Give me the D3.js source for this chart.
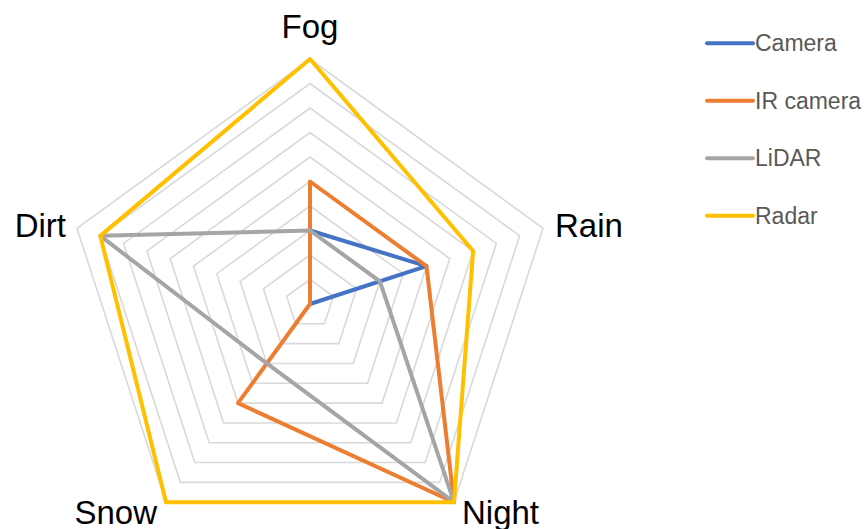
<!DOCTYPE html>
<html><head><meta charset="utf-8">
<script src="https://cdn.jsdelivr.net/npm/d3@7"></script>
<style>body{margin:0;background:#fff;}svg{display:block;font-family:"Liberation Sans",Arial,sans-serif;}</style>
</head><body>
<svg id="c" width="867" height="529"></svg>
<script>
const axes = ["Fog", "Rain", "Night", "Snow", "Dirt"];
const seriesNames = ["Camera", "IR camera", "LiDAR", "Radar"];
const camera   = [3, 5, 0, 0, 0];
const irCamera = [5, 5, 10, 5, 0];
const lidar    = [3, 3, 10, 3, 9];
const radar    = [10, 7, 10, 10, 9];
const gridLevels = [1,2,3,4,5,6,7,8,9,10];
const colors = ["#4472C4", "#ED7D31", "#A5A5A5", "#FFC000"];

const seriesData = [camera, irCamera, lidar, radar];
const svg = d3.select("#c");
const cx = 310, cy = 304, R = 245;
const r = d3.scaleLinear().domain([0, 10]).range([0, R]);
const ang = d3.scalePoint().domain(axes).range([0, 2*Math.PI*4/5]);
const pt = (a, v) => { const t = ang(a); return [cx + r(v)*Math.sin(t), cy - r(v)*Math.cos(t)]; };
const line = d3.line().curve(d3.curveLinearClosed);

const g = svg.append("g");
g.selectAll("path.grid").data(gridLevels).join("path")
  .attr("class","grid")
  .attr("d", lv => line(axes.map(a => pt(a, lv))))
  .attr("fill","none").attr("stroke","#d9d9d9").attr("stroke-width",1.6);

g.selectAll("path.series").data(seriesData).join("path")
  .attr("class","series")
  .attr("d", s => line(axes.map((a,i) => pt(a, s[i]))))
  .attr("fill","none")
  .attr("stroke",(d,i)=>colors[i])
  .attr("stroke-width",4)
  .attr("stroke-linejoin","round");

const labelOff = {
  "Fog":   {dx:0,   dy:-21, anchor:"middle"},
  "Rain":  {dx:12,  dy:9,   anchor:"start"},
  "Night": {dx:8,   dy:22,  anchor:"start"},
  "Snow":  {dx:-9,  dy:22,  anchor:"end"},
  "Dirt":  {dx:-11, dy:9,   anchor:"end"}
};
g.selectAll("text.lab").data(axes).join("text")
  .attr("class","lab")
  .attr("x", a => pt(a,10)[0] + labelOff[a].dx)
  .attr("y", a => pt(a,10)[1] + labelOff[a].dy)
  .attr("text-anchor", a => labelOff[a].anchor)
  .attr("font-size", 33).attr("fill","#000")
  .text(a => a);

const ly = d3.scalePoint().domain(seriesNames).range([43.3, 215.8]);
const leg = svg.append("g");
leg.selectAll("line").data(seriesNames).join("line")
  .attr("x1",707).attr("x2",753)
  .attr("y1",d=>ly(d)).attr("y2",d=>ly(d))
  .attr("stroke",(d,i)=>colors[i]).attr("stroke-width",4).attr("stroke-linecap","round");
leg.selectAll("text").data(seriesNames).join("text")
  .attr("x",755).attr("y",d=>ly(d)+8)
  .attr("font-size",23).attr("fill","#595959")
  .text(d=>d);
</script>
</body></html>
